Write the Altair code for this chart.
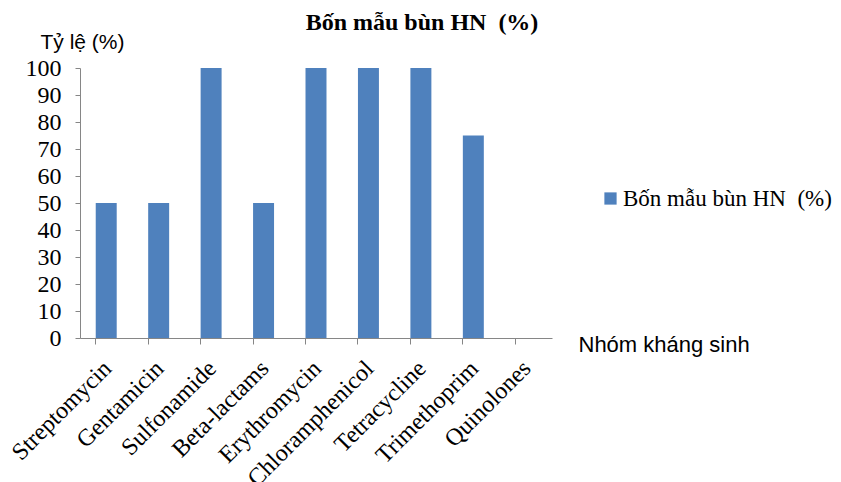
import altair as alt
import pandas as pd

categories = ["Streptomycin", "Gentamicin", "Sulfonamide", "Beta-lactams", "Erythromycin",
              "Chloramphenicol", "Tetracycline", "Trimethoprim", "Quinolones"]
values = [50, 50, 100, 50, 100, 100, 100, 75, 0]
series_name = "Bốn mẫu bùn HN\u00a0 (%)"

df = pd.DataFrame({"cat": categories, "val": values, "series": [series_name] * len(categories)})

serif = "Liberation Serif"
sans = "Liberation Sans"

chart = alt.Chart(df).mark_bar(color="#4F81BD").encode(
    x=alt.X("cat:N", sort=categories,
            scale=alt.Scale(paddingInner=0.6, paddingOuter=0.3),
            axis=alt.Axis(title="Nhóm kháng sinh", titleFont=sans, titleFontSize=22,
                          titleFontWeight="normal", titleColor="#000",
                          titleAngle=0, titleAlign="left", titleBaseline="middle",
                          titleX=498, titleY=6,
                          labelAngle=-45, labelFont=serif, labelFontSize=24, labelColor="#000",
                          labelPadding=12, labelLimit=300, labelOffset=-7,
                          domainColor="#868686", tickColor="#868686", tickSize=6,
                          bandPosition=0, grid=False)),
    y=alt.Y("val:Q", scale=alt.Scale(domain=[0, 100], nice=False),
            axis=alt.Axis(title="Tỷ lệ (%)", titleFont=sans, titleFontSize=21,
                          titleFontWeight="normal", titleColor="#000",
                          titleAngle=0, titleAlign="left", titleBaseline="middle",
                          titleX=-40, titleY=-26,
                          values=list(range(0, 101, 10)),
                          labelFont=serif, labelFontSize=24, labelColor="#000",
                          labelPadding=14,
                          domainColor="#868686", tickColor="#868686", tickSize=5,
                          grid=False)),
    color=alt.Color("series:N", scale=alt.Scale(range=["#4F81BD"]),
                    legend=alt.Legend(title=None, orient="none", legendX=519, legendY=119,
                                      symbolType="square", symbolSize=150,
                                      labelFont=serif, labelFontSize=23, labelColor="#000",
                                      labelLimit=400, labelOffset=1, symbolStrokeWidth=0)),
).properties(
    width=472, height=270,
    title=alt.TitleParams(series_name, font=serif, fontSize=24, fontWeight="bold",
                          color="#000", anchor="middle", dx=106, dy=4, offset=0),
    autosize=alt.AutoSizeParams(type="none"),
    padding={"left": 72, "top": 60, "right": 281, "bottom": 144},
).configure_view(stroke=None)

chart.save("out.html", embed_options={"renderer": "svg", "actions": False})
